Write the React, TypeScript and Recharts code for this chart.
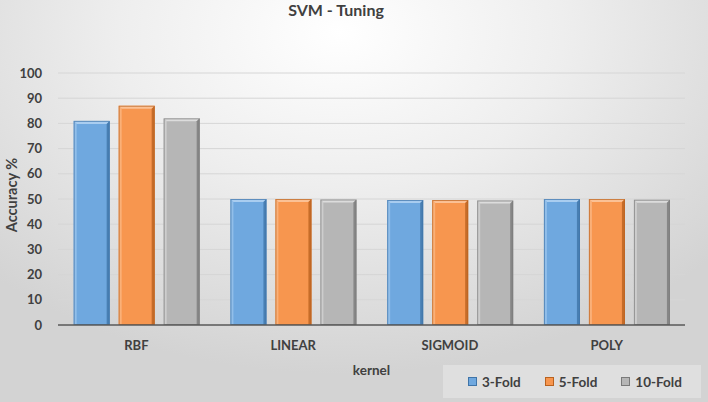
import React from 'react';
import { BarChart, Bar, XAxis, YAxis, CartesianGrid } from 'recharts';

const categories = ['RBF', 'LINEAR', 'SIGMOID', 'POLY'];
const fold3 = [81, 50, 49.6, 50];
const fold5 = [87, 50, 49.6, 50];
const fold10 = [82, 49.8, 49.4, 49.7];
const yTicks = [0, 10, 20, 30, 40, 50, 60, 70, 80, 90, 100];

const series = [
  { key: 'f3', name: '3-Fold', values: fold3, fill: '#6FA8DF', light: '#A9CDF0', dark: '#3F74A8' },
  { key: 'f5', name: '5-Fold', values: fold5, fill: '#F7964F', light: '#FBC195', dark: '#B9621F' },
  { key: 'f10', name: '10-Fold', values: fold10, fill: '#B6B6B6', light: '#DCDCDC', dark: '#7A7A7A' },
];

const data = categories.map((c, i) => {
  const row: any = { name: c };
  series.forEach((s) => {
    row[s.key] = s.values[i];
  });
  return row;
});

const FONT = 'Lato, "Open Sans", sans-serif';
const TEXT = '#404040';

const makeShape = (s: any) => (props: any) => {
  const { x, y, width, height } = props;
  if (!height || height <= 0) return null;
  const b = 3;
  return (
    <g>
      <rect x={x} y={y} width={width} height={height} fill={s.fill} />
      <polygon points={`${x},${y} ${x + width},${y} ${x + width - b},${y + b} ${x + b},${y + b}`} fill={s.light} />
      <polygon points={`${x},${y} ${x + b},${y + b} ${x + b},${y + height} ${x},${y + height}`} fill={s.light} opacity={0.6} />
      <polygon points={`${x + width},${y} ${x + width - b},${y + b} ${x + width - b},${y + height} ${x + width},${y + height}`} fill={s.dark} opacity={0.8} />
      <rect x={x + 0.5} y={y + 0.5} width={width - 1} height={height - 1} fill="none" stroke={s.dark} strokeWidth={1} opacity={0.7} />
    </g>
  );
};

export default function App() {
  return (
    <div
      style={{
        position: 'absolute',
        left: 0,
        top: 0,
        width: 708,
        height: 402,
        background: 'radial-gradient(ellipse 70% 85% at 48% 8%, #FFFFFF 0%, #EEEEEE 45%, #D3D3D3 100%)',
        fontFamily: FONT,
      }}
    >
      <div
        style={{
          position: 'absolute',
          top: 0,
          left: 0,
          width: 672,
          textAlign: 'center',
          fontWeight: 700,
          fontSize: 16,
          color: TEXT,
          lineHeight: '19px',
        }}
      >
        SVM - Tuning
      </div>
      <div style={{ position: 'absolute', left: 0, top: 0 }}>
        <BarChart
          width={708}
          height={402}
          data={data}
          margin={{ top: 73, right: 23, left: 0, bottom: 0 }}
          barCategoryGap="10%"
          barGap={9}
        >
          <CartesianGrid vertical={false} stroke="#D6D6D6" strokeWidth={1} />
          <XAxis
            dataKey="name"
            height={77}
            tickLine={false}
            tickSize={0}
            tickMargin={16}
            axisLine={{ stroke: '#595959', strokeWidth: 1.3 }}
            tick={{ fill: TEXT, fontSize: 13, fontWeight: 700, fontFamily: FONT }}
            label={{
              value: 'kernel',
              position: 'insideBottom',
              offset: 27,
              fill: TEXT,
              fontSize: 13.5,
              fontWeight: 700,
              fontFamily: FONT,
            }}
          />
          <YAxis
            width={58}
            domain={[0, 100]}
            ticks={yTicks}
            interval={0}
            tickLine={false}
            axisLine={false}
            tickSize={0}
            tickMargin={16}
            tick={{ fill: TEXT, fontSize: 13, fontWeight: 700, fontFamily: FONT }}
            label={{
              content: (p: any) => {
                const vb = p.viewBox;
                const cx = 11;
                const cy = vb.y + vb.height / 2 - 4;
                return (
                  <text
                    x={cx}
                    y={cy}
                    transform={`rotate(-90 ${cx} ${cy})`}
                    textAnchor="middle"
                    dominantBaseline="central"
                    fill={TEXT}
                    fontSize={14.5}
                    fontWeight={700}
                    fontFamily={FONT}
                  >
                    Accuracy %
                  </text>
                );
              },
            }}
          />
          {series.map((s) => (
            <Bar
              key={s.key}
              dataKey={s.key}
              name={s.name}
              fill={s.fill}
              isAnimationActive={false}
              shape={makeShape(s)}
            />
          ))}
        </BarChart>
      </div>
      <div
        style={{
          position: 'absolute',
          left: 443,
          top: 365,
          width: 258,
          height: 33,
          background: 'rgba(255,255,255,0.28)',
          display: 'flex',
          alignItems: 'center',
          paddingLeft: 25,
          boxSizing: 'border-box',
          gap: 24,
        }}
      >
        {series.map((s) => (
          <div key={s.key} style={{ display: 'flex', alignItems: 'center' }}>
            <div
              style={{
                width: 7,
                height: 7,
                background: s.fill,
                border: `1px solid ${s.dark}`,
                marginRight: 5,
              }}
            />
            <span style={{ fontSize: 13.5, fontWeight: 700, color: TEXT }}>{s.name}</span>
          </div>
        ))}
      </div>
    </div>
  );
}
